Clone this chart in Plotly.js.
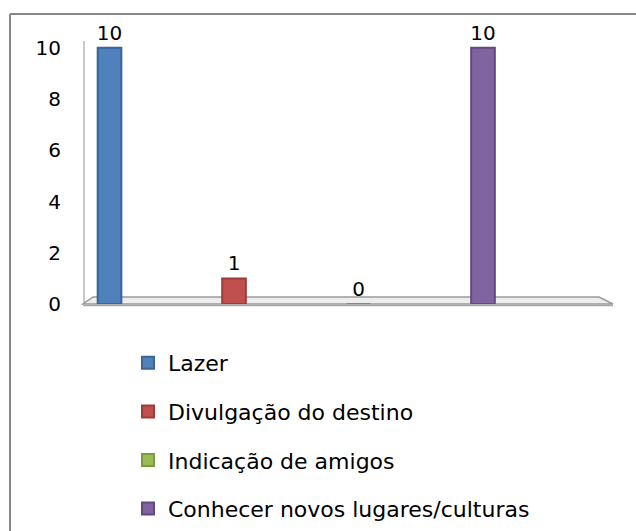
<!DOCTYPE html>
<html>
<head>
<meta charset="utf-8">
<script src="https://cdn.plot.ly/plotly-3.0.1.min.js"></script>
<style>
html,body{margin:0;padding:0;background:#fff;}
#chart{width:636px;height:531px;}
</style>
</head>
<body>
<div id="chart"></div>
<script>
// Data
var seriesNames = ["Lazer", "Divulgação do destino", "Indicação de amigos", "Conhecer novos lugares/culturas"];
var seriesValues = [10, 1, 0, 10];
var seriesPositions = [0, 1, 2, 3];
var seriesColors = ["#4F81BD", "#C0504D", "#9BBB59", "#8064A2"];
var seriesEdge = ["#3B6497", "#9E3B38", "#7A9A3E", "#64497F"];
var yTicks = [0, 2, 4, 6, 8, 10];

var FONT = "DejaVu Sans, Liberation Sans, sans-serif";

var traces = seriesNames.map(function (name, i) {
  return {
    type: "bar",
    name: name,
    legendgroup: "g" + i,
    x: [seriesPositions[i]],
    y: [seriesValues[i]],
    width: 0.19,
    marker: { color: seriesColors[i], line: { color: seriesEdge[i], width: 2 } },
    text: [String(seriesValues[i])],
    textposition: "outside",
    constraintext: "none",
    textfont: { family: FONT, size: 20, color: "#000" },
    cliponaxis: false,
    hoverinfo: "name+y"
  };
});

var W = 636, H = 531;
var L = 85, R = 31, T = 35, B = 227;
var pw = W - L - R, ph = H - T - B;
function px(xp) { return (xp - L) / pw; }
function py(yp) { return (H - B - yp) / ph; }

var shapes = [
  // outer chart-area border (top and left visible)
  { type: "line", xref: "paper", yref: "paper", x0: px(10), x1: px(650), y0: py(14), y1: py(14), line: { color: "#878787", width: 2 } },
  { type: "line", xref: "paper", yref: "paper", x0: px(10), x1: px(10), y0: py(14), y1: py(545), line: { color: "#878787", width: 2 } },
  // back wall edge
  { type: "line", xref: "paper", yref: "paper", x0: px(84), x1: px(84), y0: py(41), y1: py(303), line: { color: "#C8C8C8", width: 2 }, layer: "below" },
  // floor slab
  { type: "path", xref: "paper", yref: "paper", layer: "below",
    path: "M" + px(93) + "," + py(297) + " L" + px(599) + "," + py(297) + " L" + px(613) + "," + py(304) + " L" + px(83) + "," + py(304) + " Z",
    fillcolor: "#EDEDED", line: { color: "#9A9A9A", width: 1.5 } },
  { type: "line", xref: "paper", yref: "paper", layer: "below", x0: px(83), x1: px(613), y0: py(305.5), y1: py(305.5), line: { color: "#A8A8A8", width: 1.5 } }
];

var layout = {
  width: W, height: H,
  margin: { l: L, r: R, t: T, b: B, pad: 0, autoexpand: false },
  paper_bgcolor: "#fff",
  plot_bgcolor: "rgba(0,0,0,0)",
  barmode: "overlay",
  showlegend: true,
  font: { family: FONT, size: 20, color: "#000" },
  xaxis: {
    range: [-0.197, 3.98],
    showticklabels: false, showgrid: false, zeroline: false, showline: false, ticks: "",
    fixedrange: true
  },
  yaxis: {
    range: [0, 10.5],
    tickvals: yTicks,
    ticktext: yTicks.map(String),
    showgrid: false, zeroline: false, showline: false, ticks: "",
    ticklabelstandoff: 23,
    tickfont: { family: FONT, size: 20, color: "#000" },
    fixedrange: true
  },
  legend: {
    xref: "container", yref: "container",
    x: 128 / W, y: 1 - 342 / H,
    xanchor: "left", yanchor: "top",
    orientation: "v",
    traceorder: "grouped",
    tracegroupgap: 17,
    font: { family: FONT, size: 22, color: "#000" },
    bgcolor: "rgba(0,0,0,0)",
    borderwidth: 0
  },
  shapes: shapes
};

Plotly.newPlot("chart", traces, layout, { displayModeBar: false, staticPlot: true });
</script>
</body>
</html>
